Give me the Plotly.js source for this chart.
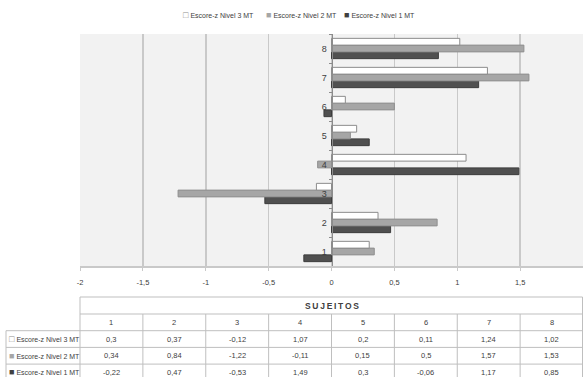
<!DOCTYPE html>
<html>
<head>
<meta charset="utf-8">
<script src="https://cdn.plot.ly/plotly-3.0.1.min.js"></script>
<style>
  html, body { margin: 0; padding: 0; overflow: hidden; background: #fff; }
  #chart { width: 583px; height: 377px; }
</style>
</head>
<body>
<div id="chart"></div>
<script>
// Subjects (categories) and z-scores for the three levels
const sujeitos = ['1', '2', '3', '4', '5', '6', '7', '8'];
const nivel3 = [0.3, 0.37, -0.12, 1.07, 0.2, 0.11, 1.24, 1.02];
const nivel2 = [0.34, 0.84, -1.22, -0.11, 0.15, 0.5, 1.57, 1.53];
const nivel1 = [-0.22, 0.47, -0.53, 1.49, 0.3, -0.06, 1.17, 0.85];
const seriesNames = ['Escore-z Nivel 3 MT', 'Escore-z Nivel 2 MT', 'Escore-z Nivel 1 MT'];
const xTickVals = [-2, -1.5, -1, -0.5, 0, 0.5, 1, 1.5];
const xTickText = ['-2', '-1,5', '-1', '-0,5', '0', '0,5', '1', '1,5'];
const tableTitle = 'SUJEITOS';

// Styling
const FONT = 'Liberation Sans, Arial, sans-serif';
const TXT = '#404040';
const fills = ['#ffffff', '#a6a6a6', '#505050'];
const edges = ['#8c8c8c', '#8f8f8f', '#3c3c3c'];
const markColors = ['#8c8c8c', '#a6a6a6', '#404040'];
const markGlyphs = ['\u25A1', '\u25A0', '\u25A0'];
const GRID = '#c9c9c9';
const TLINE = '#bfbfbf';

// Pixel layout of the figure
const W = 583, H = 377, ML = 5, MT = 34;
const PW = W - ML, PH = H - MT;
const plotLeft = 80, plotBottom = 266;
const boxTop = 297, tableTop = 314, rowH = 16.7, labelLeft = 6;
const xd0 = (plotLeft - ML) / PW;
const yd0 = (H - plotBottom) / PH;
const zeroPos = xd0 + (1 - xd0) / 2;
const px2x = p => (p - ML) / PW;
const px2y = p => (H - p) / PH;

const fmt = v => String(v).replace('.', ',');
const key = i => `<span style="color:${markColors[i]};font-size:9px">${markGlyphs[i]}</span>`;

// Bars: first trace sits lowest inside each group
const seriesVals = [nivel3, nivel2, nivel1];
const traces = [];
for (let i = 2; i >= 0; i--) {
  traces.push({
    type: 'bar', orientation: 'h',
    x: seriesVals[i], y: sujeitos,
    name: seriesNames[i],
    marker: { color: fills[i], line: { color: edges[i], width: 1 } },
    showlegend: false, hoverinfo: 'x+y'
  });
}

const annotations = [];
const shapes = [];
const paperText = (xp, yp, text, anchor, size, extra) => Object.assign({
  xref: 'paper', yref: 'paper', x: px2x(xp), y: px2y(yp),
  xanchor: anchor, yanchor: 'middle', showarrow: false,
  text: text, font: { family: FONT, size: size, color: TXT }
}, extra || {});
const hLine = (x0, x1, y) => ({
  type: 'line', xref: 'paper', yref: 'paper',
  x0: px2x(x0), x1: px2x(x1), y0: px2y(y), y1: px2y(y),
  line: { color: TLINE, width: 1 }
});
const vLine = (x, y0, y1) => ({
  type: 'line', xref: 'paper', yref: 'paper',
  x0: px2x(x), x1: px2x(x), y0: px2y(y0), y1: px2y(y1),
  line: { color: TLINE, width: 1 }
});

// Legend entries across the top
const legendX = [181, 264, 342];
seriesNames.forEach((n, i) => {
  annotations.push(paperText(legendX[i], 15, key(i) + ' ' + n, 'left', 7));
});

// Data table under the chart: title box, subject header row, one row per level
const colW = (W - plotLeft) / sujeitos.length;
const nRows = seriesNames.length;
const tableBottom = tableTop + rowH * (nRows + 1);
const rightEdge = W - 0.5;
shapes.push(hLine(plotLeft, rightEdge, boxTop));
shapes.push(hLine(plotLeft, rightEdge, tableTop));
for (let r = 1; r <= nRows + 1; r++) {
  shapes.push(hLine(labelLeft, rightEdge, tableTop + rowH * r));
}
shapes.push(vLine(labelLeft, tableTop + rowH, tableBottom));
shapes.push(vLine(plotLeft, boxTop, tableBottom));
shapes.push(vLine(rightEdge, boxTop, tableBottom));
for (let j = 1; j < sujeitos.length; j++) {
  shapes.push(vLine(plotLeft + colW * j, tableTop, tableBottom));
}
annotations.push(paperText((plotLeft + W) / 2, (boxTop + tableTop) / 2,
  '<b>' + tableTitle.split('').join('\u2009') + '</b>', 'center', 8.5));
sujeitos.forEach((s, j) => {
  const cx = plotLeft + colW * (j + 0.5);
  annotations.push(paperText(cx, tableTop + rowH * 0.5, s, 'center', 7.5));
  seriesVals.forEach((arr, i) => {
    annotations.push(paperText(cx, tableTop + rowH * (i + 1.5), fmt(arr[j]), 'center', 7.5));
  });
});
seriesNames.forEach((n, i) => {
  annotations.push(paperText(labelLeft + 1, tableTop + rowH * (i + 1.5), key(i) + ' ' + n, 'left', 7));
});

const layout = {
  width: W, height: H,
  margin: { l: ML, r: 0, t: MT, b: 0 },
  paper_bgcolor: '#ffffff',
  plot_bgcolor: '#f2f2f2',
  separators: ',.',
  barmode: 'group',
  bargap: 0.3,
  bargroupgap: 0,
  showlegend: false,
  font: { family: FONT, size: 8, color: TXT },
  xaxis: {
    domain: [xd0, 1],
    range: [-2, 2],
    tickvals: xTickVals, ticktext: xTickText,
    showgrid: true, gridcolor: GRID, gridwidth: 1.5,
    zeroline: false,
    showline: true, linecolor: GRID, linewidth: 1.5,
    ticks: 'outside', ticklen: 3, tickcolor: GRID,
    ticklabelstandoff: 5,
    tickfont: { family: FONT, size: 7.5, color: TXT },
    fixedrange: true
  },
  yaxis: {
    domain: [yd0, 1],
    type: 'category',
    categoryorder: 'array', categoryarray: sujeitos,
    anchor: 'free', position: zeroPos,
    showgrid: false, zeroline: false,
    showline: true, linecolor: '#8c8c8c', linewidth: 1,
    ticks: 'outside', ticklen: 3, tickcolor: '#8c8c8c',
    tickson: 'boundaries',
    ticklabelstandoff: 3,
    tickfont: { family: FONT, size: 9, color: TXT },
    fixedrange: true
  },
  shapes: shapes,
  annotations: annotations
};

Plotly.newPlot('chart', traces, layout, { displayModeBar: false, staticPlot: true });
</script>
</body>
</html>
